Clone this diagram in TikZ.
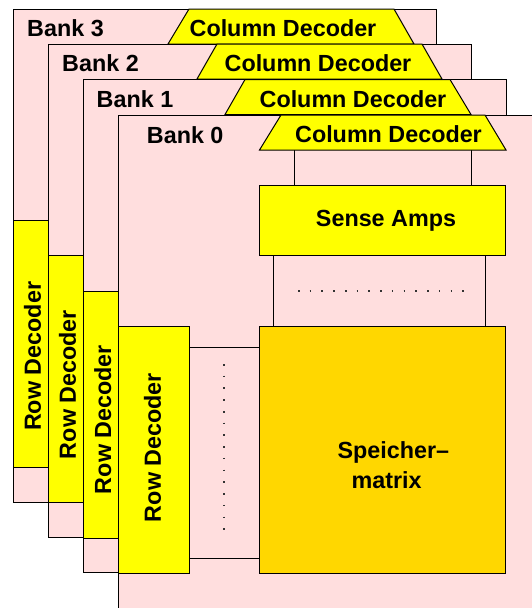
\documentclass[tikz,border=0pt]{standalone}
\usepackage{fontspec}
\setmainfont{Liberation Sans}
\usepackage{tikz}
\usetikzlibrary{positioning}
\definecolor{bankpink}{HTML}{FFDEDE}
\definecolor{decyellow}{HTML}{FFFF00}
\definecolor{matgold}{HTML}{FFD700}

\begin{document}
\begin{tikzpicture}[
  x=0.75pt, y=-0.75pt, line width=0.75pt,
  bankbox/.style={draw, fill=bankpink, anchor=north west, outer sep=0pt,
                  minimum width=317.25pt, minimum height=369.75pt},
  rowbox/.style={draw, fill=decyellow, anchor=north west, outer sep=0pt,
                 minimum height=185.25pt},
  ampbox/.style={draw, fill=decyellow, anchor=north west, outer sep=0pt,
                 minimum width=184.5pt, minimum height=52.9pt},
  matbox/.style={draw, fill=matgold, anchor=north west, outer sep=0pt,
                 minimum width=184.5pt, minimum height=185.25pt},
  coldec/.style={draw, fill=decyellow},
  tlbl/.style={font=\fontsize{17.5pt}{20pt}\selectfont\bfseries, inner sep=0pt, anchor=base},
  rlbl/.style={font=\fontsize{17.5pt}{20pt}\selectfont\bfseries, inner sep=0pt, rotate=90},
  dots/.style={line width=1.3pt, black!80, dash pattern=on 1.2pt off 7.6pt},
]
  \path[use as bounding box, clip] (0,0) rectangle (532,608);

  % --- Bank 3 ---
  \begin{scope}[shift={(13,9)}]
    \node[bankbox] (bank3) at (0,0) {};
    \draw[coldec] (176,0) -- (381,0) -- (401,35) -- (155,35) -- cycle;
    \node[tlbl] (cd3) at (270,27.7) {Column Decoder};
    \node[tlbl] (bl3) at (52.5,27.7) {Bank 3};
    \node[rowbox, minimum width=26.25pt] (rd3) at (0,211) {};
    \node[rlbl] (rl3) at (19.5,347.3) {Row Decoder};
  \end{scope}

  % --- Bank 2 ---
  \begin{scope}[shift={(48,44)}]
    \node[bankbox] (bank2) at (0,0) {};
    \draw[coldec] (169,0) -- (374,0) -- (394,35) -- (149,35) -- cycle;
    \node[tlbl] (cd2) at (270,27.7) {Column Decoder};
    \node[tlbl] (bl2) at (52.5,27.7) {Bank 2};
    \node[rowbox, minimum width=26.25pt] (rd2) at (0,211) {};
    \node[rlbl] (rl2) at (19.5,340.5) {Row Decoder};
  \end{scope}

  % --- Bank 1 ---
  \begin{scope}[shift={(83,79.5)}]
    \node[bankbox] (bank1) at (0,0) {};
    \draw[coldec] (162,0) -- (367,0) -- (388,35) -- (142,35) -- cycle;
    \node[tlbl] (cd1) at (270,27.7) {Column Decoder};
    \node[tlbl] (bl1) at (52,27.7) {Bank 1};
    \node[rowbox, minimum width=26.25pt] (rd1) at (0,211.5) {};
    \node[rlbl] (rl1) at (19.8,340) {Row Decoder};
  \end{scope}

  % --- Bank 0 (front) ---
  \begin{scope}[shift={(118.5,115)}]
    \node[bankbox] (bank0) at (0,0) {};
    \node[tlbl] (bl0) at (66.7,28) {Bank 0};

    % Wires behind the blocks
    \coordinate (cl) at (176,35);
    \coordinate (cr) at (352.5,35);
    \coordinate (al) at (176,70);
    \coordinate (ar) at (352.5,70);
    \coordinate (bl) at (154.8,141);
    \coordinate (br) at (366.5,141);
    \coordinate (ml) at (154.8,211);
    \coordinate (mr) at (366.5,211);
    \coordinate (rt) at (70.5,232);
    \coordinate (rb) at (70.5,443.5);
    \coordinate (mt) at (141,232);
    \coordinate (mb) at (141,443.5);
    \draw (cl) -- (al);
    \draw (cr) -- (ar);
    \draw (bl) -- (ml);
    \draw (br) -- (mr);
    \draw (rt) -- (mt);
    \draw (rb) -- (mb);

    \draw[coldec] (162.5,0) -- (366.5,0) -- (387.5,35) -- (141,35) -- cycle;
    \node[tlbl] (cd0) at (270,27.7) {Column Decoder};
    \node[ampbox] (sa0) at (141,70) {};
    \node[tlbl] (sl0) at (267.5,111.7) {Sense Amps};
    \node[matbox] (sm0) at (141,211) {};
    \node[tlbl] (ml0) at (274.8,343) {Speicher--};
    \node[tlbl] (ml1) at (268.2,373) {matrix};
    \node[rowbox, minimum width=52.875pt] (rd0) at (0,211) {};
    \node[rlbl] (rl0) at (34,332.5) {Row Decoder};

    % Dotted fill between the wires
    \coordinate (dl) at (179.5,175.7);
    \coordinate (dr) at (345,175.7);
    \coordinate (dt) at (105.5,249);
    \coordinate (db) at (105.5,415);
    \draw[dots] (dl) -- (dr);
    \draw[dots] (dt) -- (db);
  \end{scope}
\end{tikzpicture}
\end{document}
